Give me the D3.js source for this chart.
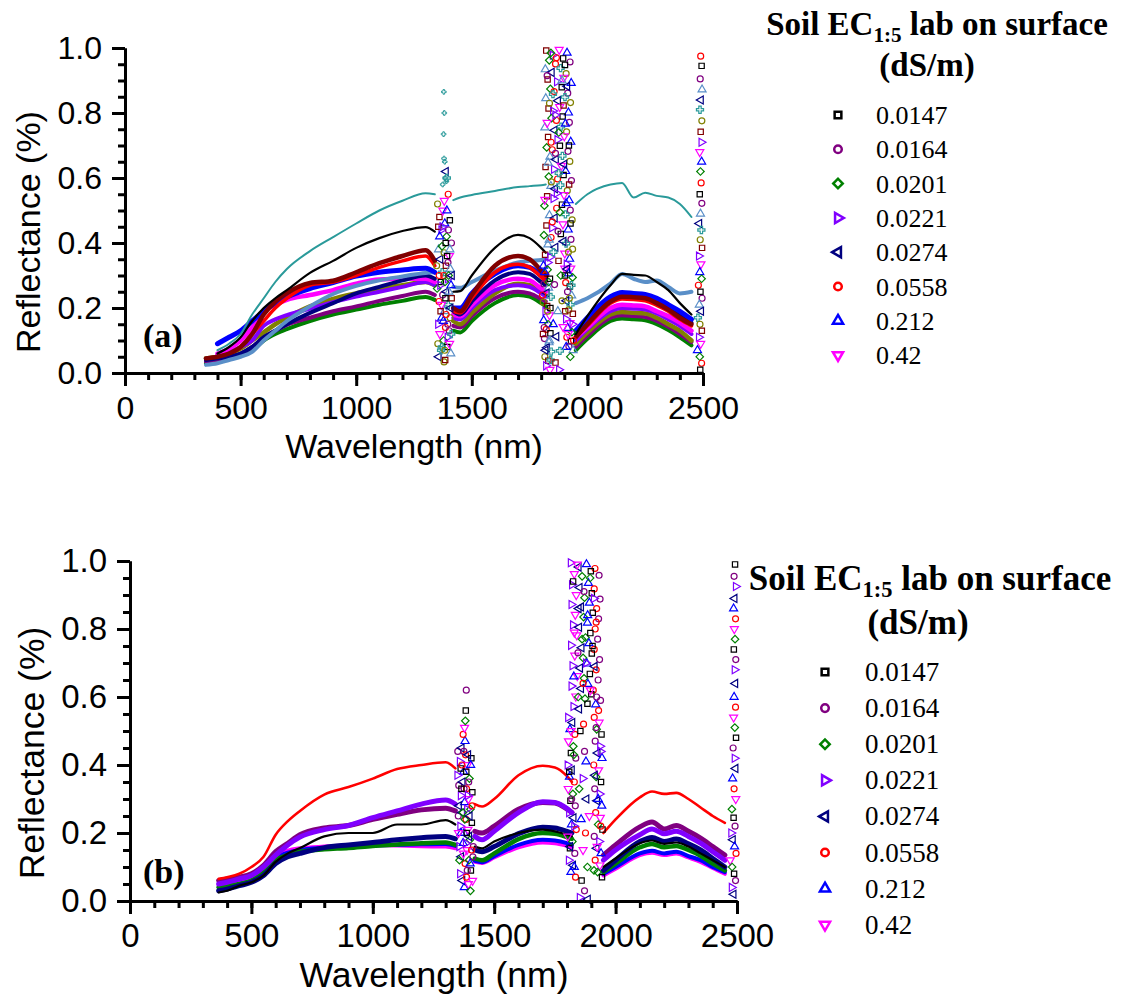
<!DOCTYPE html>
<html>
<head>
<meta charset="utf-8">
<script src="https://cdn.jsdelivr.net/npm/d3@7"></script>
<style>
  body { margin: 0; background: #fff; }
  svg { display: block; }
</style>
</head>
<body>
<svg id="chart" width="1122" height="998"></svg>
<script>
// wavelength grid (nm); 1380 and 1890 are gaps (water bands)
const wlA = [350,400,450,500,550,600,650,700,800,900,1000,1100,1200,1300,1340,1380,1420,1450,1500,1600,1700,1750,1800,1820,1890,1950,2000,2100,2150,2200,2250,2300,2350,2400,2450];
const wlB = [365,400,450,500,550,600,650,700,800,900,1000,1100,1200,1300,1340,1380,1420,1450,1500,1600,1700,1750,1800,1820,1890,1950,2000,2100,2150,2200,2250,2300,2350,2400,2450];
const N = null;

const ecLabels = ["0.0147","0.0164","0.0201","0.0221","0.0274","0.0558","0.212","0.42"];
const ecColors = ["#000000","#800080","#008000","#8000ff","#000080","#ff0000","#0000ff","#ff00ff"];
const ecShapes = ["square","circle","diamond","right","left","circle","up","down"];

const xTicks = [0,500,1000,1500,2000,2500];
const yTicks = [0,0.2,0.4,0.6,0.8,1.0];

// panel (a) spectra
const aBlack   = [N,.06,.08,.11,.16,.20,.23,.255,.308,.345,.385,.415,.437,.449,.435, N, .25,.252,.30,.385,.425,.415,.385,.37, N, .12,.175,.27,.305,.302,.30,.28,.255,.215,.18];
const aTeal    = [N,.07,.09,.12,.18,.23,.28,.32,.375,.418,.46,.50,.53,.553,.55, N, .532,.54,.548,.56,.572,.575,.578,.58, N, .52,.55,.58,.585,.54,.555,.545,.54,.52,.48];
const aWine    = [.045,.05,.06,.08,.12,.18,.22,.246,.277,.284,.31,.338,.36,.378,.345, N, .20,.19,.24,.33,.36,.35,.315,.30, N, .11,.15,.22,.235,.233,.23,.215,.195,.17,.15];
const aRed     = [N,.05,.06,.08,.12,.16,.20,.23,.27,.28,.30,.325,.345,.36,.33, N, .19,.185,.23,.31,.335,.325,.295,.28, N, .11,.145,.215,.228,.226,.222,.208,.19,.165,.145];
const aBlue    = [N,.09,.11,.13,.16,.19,.215,.234,.26,.278,.298,.31,.317,.322,.31, N, .20,.20,.245,.305,.33,.325,.30,.29, N, .13,.17,.235,.248,.245,.242,.23,.21,.19,.165];
const aNavy    = [.04,.045,.05,.06,.08,.11,.13,.15,.185,.215,.245,.265,.285,.30,.29, N, .19,.18,.22,.285,.31,.305,.28,.27, N, .12,.16,.225,.238,.235,.232,.22,.20,.18,.155];
const aSteel   = [.025,.03,.04,.05,.065,.10,.13,.16,.205,.243,.268,.285,.297,.308,.31, N, .265,.262,.28,.315,.34,.345,.348,.35, N, .215,.23,.275,.305,.29,.28,.285,.265,.245,.25];
const aOlive   = [.045,.05,.06,.075,.10,.125,.15,.17,.205,.228,.245,.26,.27,.28,.27, N, .16,.15,.185,.245,.275,.27,.25,.24, N, .09,.125,.18,.188,.185,.183,.17,.15,.13,.10];
const aViolet  = [N,.055,.065,.08,.10,.145,.165,.178,.198,.218,.235,.25,.265,.28,.27, N, .17,.165,.20,.255,.27,.265,.245,.235, N, .10,.135,.19,.20,.198,.195,.183,.165,.145,.12];
const aMagenta = [N,.06,.075,.10,.14,.19,.21,.225,.24,.255,.275,.288,.29,.29,.28, N, .18,.175,.21,.27,.29,.285,.26,.25, N, .11,.14,.20,.21,.208,.205,.19,.175,.155,.13];
const aPurple  = [.035,.04,.05,.06,.08,.11,.13,.148,.17,.19,.205,.222,.237,.25,.24, N, .145,.14,.175,.23,.25,.245,.228,.22, N, .08,.115,.17,.178,.175,.172,.16,.142,.12,.095];
const aGreen   = [.03,.035,.045,.055,.07,.10,.12,.135,.16,.18,.195,.21,.222,.234,.225, N, .13,.125,.16,.215,.24,.235,.215,.205, N, .07,.105,.16,.168,.165,.162,.15,.132,.11,.085];

// panel (b) spectra
const bBlack   = [.025,.03,.045,.055,.075,.115,.14,.156,.19,.20,.20,.225,.225,.238,.225, N, .16,.155,.175,.20,.21,.205,.195,.19, N, .10,.125,.17,.178,.168,.172,.16,.14,.12,.10];
const bPurple  = [.06,.065,.07,.08,.105,.145,.17,.195,.215,.222,.24,.255,.268,.273,.265, N, .205,.20,.22,.27,.29,.288,.27,.26, N, .135,.165,.218,.232,.212,.222,.205,.185,.16,.135];
const bGreen   = [.04,.045,.05,.06,.085,.12,.135,.145,.152,.156,.162,.166,.17,.172,.165, N, .125,.12,.14,.182,.20,.198,.188,.183, N, .085,.11,.158,.168,.158,.162,.15,.133,.11,.09];
const bViolet  = [.05,.055,.065,.075,.10,.135,.165,.188,.21,.222,.245,.265,.285,.297,.285, N, .19,.18,.205,.26,.292,.29,.272,.26, N, .12,.15,.195,.212,.198,.205,.19,.17,.145,.12];
const bNavy    = [.03,.035,.045,.055,.075,.11,.13,.14,.157,.165,.172,.18,.186,.19,.183, N, .15,.145,.16,.198,.217,.215,.205,.20, N, .09,.12,.175,.187,.175,.182,.168,.15,.125,.10];
const bRed     = [.065,.07,.08,.10,.13,.195,.235,.265,.313,.335,.36,.388,.40,.408,.39, N, .285,.278,.30,.37,.398,.393,.367,.35, N, .20,.24,.305,.322,.315,.318,.30,.275,.25,.23];
const bBlue    = [.04,.04,.05,.06,.085,.125,.142,.15,.156,.16,.163,.165,.167,.168,.162, N, .118,.114,.132,.165,.18,.178,.17,.165, N, .08,.10,.14,.148,.14,.145,.132,.12,.10,.085];
const bMagenta = [.045,.045,.055,.065,.09,.13,.148,.155,.16,.163,.165,.163,.161,.16,.155, N, .115,.112,.128,.158,.172,.17,.162,.158, N, .075,.095,.135,.142,.135,.14,.128,.115,.097,.08];

// scattered readings inside the water absorption bands [nm, reflectance]
const noiseA1 = [[1352,.52],[1360,.48],[1368,.44],[1375,.50],[1383,.46],[1391,.42],[1398,.55],[1405,.47],[1412,.40],
  [1356,.38],[1364,.35],[1372,.31],[1380,.37],[1388,.33],[1396,.29],[1403,.36],[1410,.27],
  [1350,.26],[1358,.22],[1366,.28],[1374,.24],[1382,.19],[1390,.25],[1398,.21],[1406,.17],[1413,.23],
  [1354,.15],[1362,.12],[1370,.17],[1378,.10],[1386,.14],[1394,.08],[1402,.13],[1409,.06],
  [1357,.05],[1367,.07],[1380,.034],[1385,.04],[1395,.11],[1404,.09],
  [1361,.42],[1371,.39],[1379,.30],[1387,.40],[1397,.34],[1407,.32],[1388,.62],[1392,.60],
  [1348,.33],[1355,.45],[1363,.27],[1369,.21],[1377,.16],[1384,.28],[1389,.18],[1393,.36],[1399,.44],[1401,.25],
  [1408,.20],[1411,.12],[1353,.09],[1365,.19],[1373,.45],[1381,.53],[1392,.50],[1400,.30],[1359,.30],[1386,.23],
  [1396,.15],[1405,.38],[1414,.30],[1370,.08],[1383,.07]];
const tealSpikesA = [[1379,.865],[1381,.80],[1378,.735],[1380,.66],[1383,.65],[1385,.60],[1374,.58],[1390,.59]];
const noiseA2 = [[1822,.992],[1850,.978],[1878,.995],[1912,.985],[1835,.962],[1862,.951],[1895,.968],[1925,.957],
  [1818,.934],[1846,.925],[1884,.938],[1908,.921],[1828,.903],[1868,.896],[1898,.909],[1930,.892],
  [1840,.874],[1856,.866],[1889,.879],[1915,.861],[1820,.845],[1873,.838],[1903,.849],[1927,.832],
  [1832,.814],[1851,.806],[1880,.819],[1918,.801],[1845,.784],[1866,.777],[1893,.789],[1922,.771],
  [1816,.755],[1858,.747],[1886,.758],[1910,.742],[1830,.726],[1870,.718],[1900,.729],[1928,.711],
  [1824,.694],[1848,.687],[1881,.699],[1916,.682],[1838,.665],[1864,.657],[1892,.668],[1924,.651],
  [1819,.634],[1855,.627],[1887,.638],[1906,.621],[1833,.604],[1871,.597],[1897,.609],[1931,.592],
  [1842,.575],[1860,.567],[1883,.578],[1913,.561],[1826,.544],[1853,.537],[1899,.548],[1921,.531],
  [1814,.515],[1867,.507],[1890,.518],[1926,.501],[1836,.485],[1859,.477],[1905,.488],[1934,.471],
  [1823,.454],[1847,.447],[1894,.458],[1917,.441],[1812,.424],[1843,.417],[1885,.428],[1929,.411],
  [1829,.395],[1862,.387],[1908,.398],[1936,.381],[1817,.364],[1839,.357],[1902,.368],[1923,.351],
  [1842,.985],[1866,.97],[1903,.948],[1826,.915],[1890,.90],[1913,.882],[1851,.858],[1836,.83],[1897,.823],
  [1861,.794],[1826,.77],[1905,.767],[1876,.74],[1843,.71],[1920,.70],[1862,.676],[1830,.647],[1900,.642],
  [1876,.615],[1844,.588],[1921,.58],[1867,.553],[1816,.533],[1908,.522],[1881,.495],[1848,.465],[1927,.46],
  [1873,.436],[1835,.41],[1897,.405],[1853,.372],[1918,.372],[1875,.345],[1828,.34],[1902,.322],
  [1810,.33],[1828,.318],[1820,.302],[1838,.29],[1812,.274],[1832,.262],[1824,.246],[1842,.234],[1809,.218],[1826,.206],
  [1818,.19],[1836,.178],[1811,.162],[1830,.15],[1822,.134],[1840,.122],[1814,.106],[1834,.094],[1825,.078],[1843,.066],
  [1816,.05],[1831,.038],[1821,.022],[1838,.01],
  [1815,.31],[1833,.28],[1806,.24],[1840,.20],[1813,.14],[1836,.10],[1819,.07],[1841,.04],[1828,.19],[1808,.12],
  [1910,.335],[1928,.322],[1918,.306],[1936,.294],[1906,.278],[1924,.266],[1914,.25],[1932,.238],[1909,.222],[1927,.21],
  [1919,.194],[1937,.182],[1907,.166],[1925,.154],[1915,.138],[1933,.126],[1911,.11],[1929,.098],[1920,.082],[1938,.07],
  [1913,.32],[1931,.27],[1922,.23],[1904,.19],[1935,.15],[1917,.12],[1908,.08],[1926,.05],[1940,.10],[1903,.30],
  [1858,.272],[1872,.19],[1866,.112],[1881,.068],[1890,.222],[1862,.032],[1877,.01],[1895,.142],[1852,.15],[1885,.30]];
const noiseA3 = [[2490,.975],[2494,.945],[2488,.905],[2496,.872],[2491,.84],[2487,.81],[2495,.776],[2490,.742],[2493,.71],
  [2486,.68],[2494,.65],[2489,.62],[2492,.585],[2486,.55],[2495,.522],[2489,.49],[2484,.46],[2493,.44],[2488,.41],
  [2496,.385],[2482,.36],[2491,.335],[2486,.31],[2494,.29],[2480,.27],[2489,.25],[2496,.23],[2484,.21],[2492,.19],
  [2478,.17],[2487,.15],[2495,.13],[2482,.11],[2490,.09],[2476,.07],[2486,.05],[2494,.03],[2488,.01]];

const noiseB1 = [[1350,.44],[1358,.41],[1366,.45],[1374,.38],[1382,.43],[1390,.40],[1398,.36],[1406,.42],
  [1354,.34],[1362,.31],[1370,.35],[1378,.29],[1386,.33],[1394,.30],[1402,.27],[1410,.32],
  [1352,.25],[1360,.22],[1368,.26],[1376,.20],[1384,.24],[1392,.21],[1400,.18],[1408,.23],[1414,.16],
  [1356,.16],[1364,.13],[1372,.17],[1380,.11],[1388,.15],[1396,.12],[1404,.09],[1412,.13],
  [1359,.08],[1369,.06],[1377,.04],[1386,.07],[1394,.05],[1402,.03],
  [1362,.39],[1376,.33],[1388,.27],[1397,.19],[1380,.47],[1372,.49],[1378,.51],[1381,.53],[1383,.56],[1385,.62],
  [1348,.37],[1355,.28],[1363,.20],[1367,.40],[1373,.14],[1379,.24],[1385,.38],[1389,.09],[1391,.31],[1399,.25],
  [1403,.40],[1407,.15],[1411,.06],[1357,.12],[1365,.33],[1375,.44],[1383,.17],[1393,.43],[1401,.11],[1409,.28],
  [1353,.20],[1371,.26],[1387,.20],[1395,.35]];
const noiseB2 = [[1815,.995],[1848,.982],[1880,.99],[1915,.978],[1830,.962],[1862,.955],[1898,.97],[1932,.958],
  [1820,.93],[1852,.922],[1888,.935],[1912,.918],[1838,.90],[1872,.892],[1902,.905],[1936,.888],
  [1818,.872],[1858,.865],[1892,.877],[1922,.86],[1834,.842],[1868,.835],[1906,.848],[1930,.83],
  [1824,.812],[1850,.805],[1884,.818],[1916,.80],[1840,.782],[1876,.775],[1896,.788],[1926,.77],
  [1816,.752],[1860,.745],[1890,.758],[1912,.74],[1832,.722],[1866,.715],[1902,.728],[1934,.71],
  [1822,.692],[1854,.685],[1882,.698],[1920,.68],[1842,.662],[1870,.655],[1894,.668],[1928,.65],
  [1818,.632],[1858,.625],[1886,.638],[1908,.62],[1836,.602],[1874,.595],[1900,.608],[1938,.59],
  [1826,.572],[1850,.565],[1918,.578],[1930,.56],
  [1842,.99],[1895,.95],[1825,.94],[1870,.91],[1910,.89],[1848,.86],[1885,.84],[1920,.82],[1830,.79],[1862,.77],
  [1905,.75],[1845,.73],[1878,.70],[1914,.69],[1828,.66],[1866,.64],[1896,.62],[1846,.60],[1884,.58],[1922,.60],
  [1804,.54],[1822,.525],[1812,.505],[1832,.49],[1806,.47],[1826,.455],[1816,.435],[1836,.42],[1802,.40],[1820,.385],
  [1810,.365],[1830,.35],[1805,.33],[1824,.315],[1814,.295],[1834,.28],[1808,.26],[1827,.245],[1818,.225],[1838,.21],
  [1803,.19],[1822,.175],[1812,.155],[1832,.14],[1807,.12],[1825,.105],[1816,.085],[1835,.07],
  [1817,.50],[1828,.43],[1809,.38],[1819,.30],[1829,.22],[1813,.16],[1830,.10],
  [1912,.54],[1932,.525],[1922,.505],[1942,.49],[1916,.47],[1936,.455],[1926,.435],[1944,.42],[1910,.40],[1930,.385],
  [1920,.365],[1940,.35],[1914,.33],[1934,.315],[1924,.295],[1943,.28],[1918,.26],[1937,.245],[1928,.225],[1946,.21],
  [1912,.19],[1932,.175],[1922,.155],[1940,.14],[1916,.12],[1935,.105],[1926,.085],[1944,.07],
  [1920,.51],[1938,.44],[1915,.37],[1928,.30],[1939,.22],[1924,.16],[1911,.09],
  [1855,.50],[1872,.44],[1864,.36],[1880,.30],[1858,.24],[1876,.20],[1866,.15],[1884,.10],[1860,.06],[1872,.03],
  [1852,.01],[1886,.005],[1878,.41],[1868,.52],[1892,.25],[1850,.33]];
const noiseB3 = [[2492,.99],[2488,.955],[2495,.925],[2490,.89],[2486,.86],[2494,.83],[2489,.80],[2492,.77],[2487,.74],
  [2495,.71],[2490,.68],[2493,.64],[2488,.60],[2494,.57],[2486,.54],[2491,.51],[2496,.48],[2484,.45],[2490,.42],
  [2494,.39],[2482,.36],[2488,.33],[2495,.30],[2479,.27],[2486,.245],[2492,.22],[2476,.20],[2483,.18],[2490,.16],
  [2496,.14],[2472,.12],[2480,.10],[2488,.08],[2494,.06],[2478,.04],[2486,.02]];

const wine = "#800000", olive = "#808000", teal = "#2a9a9a", steel = "#5a8fc8";

const panelA = {
  wl: wlA, left: 125, right: 703, top: 48, bottom: 373,
  tickFont: 32, titleFont: 34, xTitle: [414, 458], yTitle: [40, 232], tag: ["(a)", 143, 347],
  series: [
    {v: aGreen, c: ecColors[2], w: 4}, {v: aPurple, c: ecColors[1], w: 4}, {v: aOlive, c: olive, w: 4.5},
    {v: aViolet, c: ecColors[3], w: 4}, {v: aMagenta, c: ecColors[7], w: 4.5}, {v: aNavy, c: ecColors[4], w: 4},
    {v: aSteel, c: steel, w: 4}, {v: aBlue, c: ecColors[6], w: 5}, {v: aRed, c: ecColors[5], w: 3.5},
    {v: aWine, c: wine, w: 4.5}, {v: aBlack, c: ecColors[0], w: 2.2}, {v: aTeal, c: teal, w: 2}
  ],
  noise: noiseA1.concat(noiseA2, noiseA3),
  noiseColors: [olive, wine, ecColors[3], ecColors[7], ecColors[6], ecColors[2], ecColors[5], ecColors[0], ecColors[1], steel, ecColors[4], teal],
  noiseShapes: ["circle","square","right","down","up","diamond","circle","square","circle","up","left","cross"],
  spikes: tealSpikesA,
  legend: {tx: 937, ty: 35, t2x: 927, t2y: 76, tsize: 33, sx: 838, lx: 876, ry: 115, step: 34.3, lsize: 26}
};

const panelB = {
  wl: wlB, left: 130, right: 737, top: 561, bottom: 901,
  tickFont: 33, titleFont: 35.5, xTitle: [434, 987], yTitle: [44, 753], tag: ["(b)", 143, 883],
  series: [
    {v: bMagenta, c: ecColors[7], w: 4}, {v: bBlue, c: ecColors[6], w: 4}, {v: bGreen, c: ecColors[2], w: 4.5},
    {v: bNavy, c: ecColors[4], w: 5}, {v: bBlack, c: ecColors[0], w: 2.2}, {v: bPurple, c: ecColors[1], w: 5},
    {v: bViolet, c: ecColors[3], w: 5}, {v: bRed, c: ecColors[5], w: 2.6}
  ],
  noise: noiseB1.concat(noiseB2, noiseB3),
  noiseColors: [ecColors[1], ecColors[3], ecColors[4], ecColors[6], ecColors[5], ecColors[7], ecColors[2], ecColors[0]],
  noiseShapes: ["circle","right","left","up","circle","down","diamond","square"],
  spikes: [],
  legend: {tx: 930, ty: 590, t2x: 918, t2y: 634, tsize: 35, sx: 825, lx: 865, ry: 672, step: 36.1, lsize: 27}
};

const svg = d3.select("#chart");
const sansFont = "Liberation Sans, Arial, sans-serif";
const serifFont = "Liberation Serif, Times New Roman, serif";

const symbolTypes = {square: d3.symbolSquare, circle: d3.symbolCircle, diamond: d3.symbolSquare,
  up: d3.symbolTriangle, right: d3.symbolTriangle, left: d3.symbolTriangle, down: d3.symbolTriangle, cross: d3.symbolCross};
const symbolRot = {diamond: 45, right: 90, left: -90, down: 180};

function marker(g, shape, size, cx, cy, color, sw) {
  g.append("path")
    .attr("d", d3.symbol().type(symbolTypes[shape]).size(size)())
    .attr("transform", "translate(" + cx + "," + cy + ") rotate(" + (symbolRot[shape] || 0) + ")")
    .attr("fill", "none")
    .attr("stroke", color)
    .attr("stroke-width", sw);
}

function drawPanel(p) {
  const x = d3.scaleLinear().domain([0, 2500]).range([p.left, p.right]);
  const y = d3.scaleLinear().domain([0, 1]).range([p.bottom, p.top]);
  const g = svg.append("g");

  const line = d3.line()
    .defined(d => d[1] != null)
    .x(d => x(d[0]))
    .y(d => y(d[1]))
    .curve(d3.curveMonotoneX);

  p.series.forEach(s => {
    g.append("path")
      .datum(p.wl.map((w, i) => [w, s.v[i]]))
      .attr("d", line)
      .attr("fill", "none")
      .attr("stroke", s.c)
      .attr("stroke-width", s.w)
      .attr("stroke-linejoin", "round")
      .attr("stroke-linecap", "round");
  });

  // scattered points in the noisy absorption bands
  p.noise.forEach((d, i) => {
    const k = i % p.noiseColors.length;
    marker(g, p.noiseShapes[k], 28, x(d[0]), y(d[1]), p.noiseColors[k], 1.2);
  });
  p.spikes.forEach(d => marker(g, "cross", 12, x(d[0]), y(d[1]), teal, 1));

  // axes
  const yMinor = g.append("g").attr("transform", "translate(" + p.left + ",0)")
    .call(d3.axisLeft(y).tickValues(d3.range(0, 1.001, 0.05)).tickSize(7).tickSizeOuter(0).tickFormat(""));
  const xMinor = g.append("g").attr("transform", "translate(0," + p.bottom + ")")
    .call(d3.axisBottom(x).tickValues(d3.range(0, 2501, 100)).tickSize(7).tickSizeOuter(0).tickFormat(""));
  const yAxis = g.append("g").attr("transform", "translate(" + p.left + ",0)")
    .call(d3.axisLeft(y).tickValues(yTicks).tickSize(13).tickPadding(10).tickSizeOuter(0).tickFormat(d3.format(".1f")));
  const xAxis = g.append("g").attr("transform", "translate(0," + p.bottom + ")")
    .call(d3.axisBottom(x).tickValues(xTicks).tickSize(13).tickPadding(10).tickSizeOuter(0).tickFormat(d3.format("d")));

  [yMinor, xMinor, yAxis, xAxis].forEach(a => {
    a.selectAll("line, path").attr("stroke", "#000").attr("stroke-width", 3);
    a.selectAll("text").attr("font-family", sansFont).attr("font-size", p.tickFont).attr("fill", "#000");
  });

  g.append("text")
    .attr("x", p.xTitle[0]).attr("y", p.xTitle[1])
    .attr("text-anchor", "middle")
    .attr("font-family", sansFont).attr("font-size", p.titleFont)
    .text("Wavelength (nm)");

  g.append("text")
    .attr("transform", "translate(" + p.yTitle[0] + "," + p.yTitle[1] + ") rotate(-90)")
    .attr("text-anchor", "middle")
    .attr("font-family", sansFont).attr("font-size", p.titleFont)
    .text("Reflectance (%)");

  g.append("text")
    .attr("x", p.tag[1]).attr("y", p.tag[2])
    .attr("font-family", serifFont).attr("font-weight", "bold").attr("font-size", 34)
    .text(p.tag[0]);

  // legend
  const L = p.legend;
  const title = g.append("text")
    .attr("x", L.tx).attr("y", L.ty)
    .attr("text-anchor", "middle")
    .attr("font-family", serifFont).attr("font-weight", "bold").attr("font-size", L.tsize);
  title.append("tspan").text("Soil EC");
  title.append("tspan").attr("dy", 7).attr("font-size", L.tsize * 0.64).text("1:5");
  title.append("tspan").attr("dy", -7).text(" lab on surface");

  g.append("text")
    .attr("x", L.t2x).attr("y", L.t2y)
    .attr("text-anchor", "middle")
    .attr("font-family", serifFont).attr("font-weight", "bold").attr("font-size", L.tsize)
    .text("(dS/m)");

  ecLabels.forEach((lab, i) => {
    const cy = L.ry + i * L.step;
    marker(g, ecShapes[i], 45, L.sx, cy, ecColors[i], 2.5);
    g.append("text")
      .attr("x", L.lx).attr("y", cy + 9)
      .attr("font-family", serifFont).attr("font-size", L.lsize)
      .text(lab);
  });
}

drawPanel(panelA);
drawPanel(panelB);
</script>
</body>
</html>
